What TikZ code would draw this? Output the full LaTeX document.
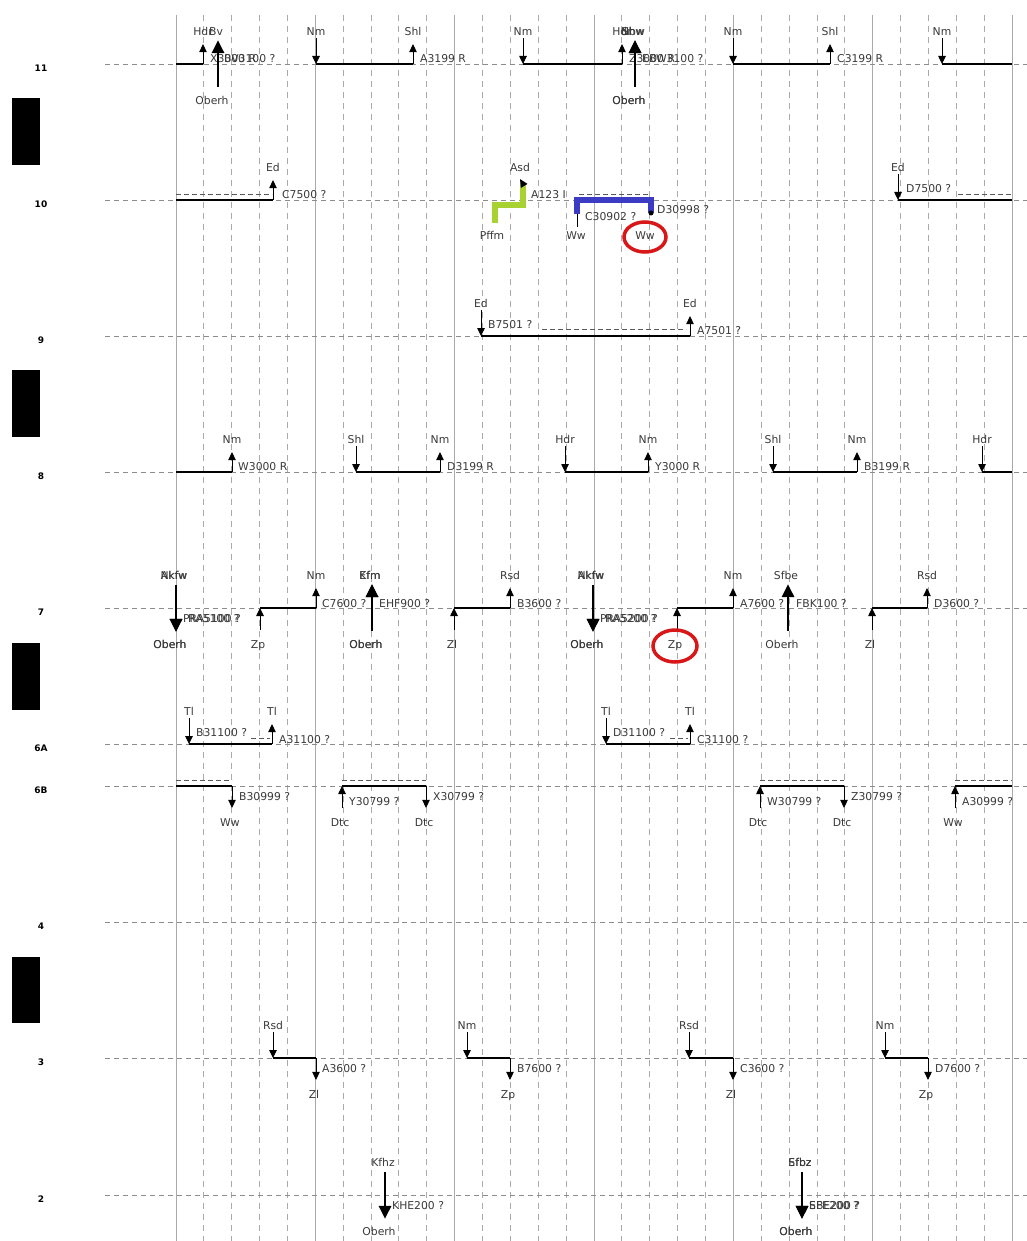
\documentclass[tikz,border=0pt]{standalone}
\usepackage{fontspec}
\setmainfont{DejaVu Sans}
\usetikzlibrary{arrows.meta,calc}
\definecolor{txt}{HTML}{3A3A3A}
\definecolor{gridc}{HTML}{AAAAAA}
\definecolor{limec}{HTML}{A8D232}
\definecolor{bluep}{HTML}{3B3BC4}
\definecolor{redc}{HTML}{D81818}
\tikzset{
 lab/.style={font=\fontsize{10.8}{12}\selectfont, text=txt, inner sep=0pt, text height=7.8pt, text depth=2pt},
 rowlab/.style={font=\fontsize{9}{10}\selectfont\bfseries, text=black, inner sep=0pt},
 sarr/.style={-{Triangle[length=8pt,width=7.5pt]}, line width=0.9pt},
 tarr/.style={-{Triangle[length=13pt,width=12pt]}, line width=2.8pt},
 seg/.style={line width=2.2pt},
 hint/.style={dash pattern=on 5pt off 3pt, line width=0.8pt, draw=black!65},
 vsolid/.style={draw=gridc, line width=1pt},
 vdash/.style={draw=gridc, line width=0.9pt, dash pattern=on 6pt off 5pt},
 rowline/.style={draw=black!45, line width=0.8pt, dash pattern=on 5pt off 4pt},
}
\newcommand\UpT[4]{\node[lab] (#1) at (#2,#3-31) {#4};\coordinate (#1p) at (#2,#3);\draw[sarr] (#1p) -- ($(#1.south)+(0,6)$);}
\newcommand\DnT[4]{\node[lab] (#1) at (#2,#3-31) {#4};\coordinate (#1p) at (#2,#3);\draw[sarr] (#1.south) -- (#1p);}
\newcommand\UpB[4]{\node[lab] (#1) at (#2-2,#3+38) {#4};\coordinate (#1p) at (#2,#3);\draw[sarr] ($(#1.north -| #1p)+(0,-11)$) -- (#1p);}
\newcommand\DnB[4]{\node[lab] (#1) at (#2-2,#3+38) {#4};\coordinate (#1p) at (#2,#3);\draw[sarr] (#1p) -- ($(#1.north -| #1p)+(0,-11)$);}
\newcommand\TkUp[5]{\node[lab] (#1t) at (#2-2,#3-31) {#4};\node[lab] (#1b) at (#2-6,#3+38) {#5};\coordinate (#1p) at (#2,#3);\draw[tarr] ($(#1b.north -| #1p)+(0,-10)$) -- ($(#1t.south -| #1p)+(0,2)$);}
\newcommand\TkDn[5]{\node[lab] (#1t) at (#2-2,#3-31) {#4};\node[lab] (#1b) at (#2-6,#3+38) {#5};\coordinate (#1p) at (#2,#3);\draw[tarr] ($(#1t.south -| #1p)+(0,3)$) -- ($(#1b.north -| #1p)+(0,-9)$);}
\newcommand\Side[4]{\node[lab,anchor=west] (#1) at (#2,#3) {#4};}
\begin{document}
\begin{tikzpicture}[x=1pt,y=-1pt]
\useasboundingbox (0,0) rectangle (1027,1241);
\fill[white] (0,0) rectangle (1027,1241);
% grid
\foreach \c in {0,...,30}{
  \pgfmathsetmacro{\gx}{176+27.867*\c}
  \pgfmathtruncatemacro{\gm}{mod(\c,5)}
  \ifnum\gm=0
    \draw[vsolid] (\gx,15) -- (\gx,1241);
  \else
    \draw[vdash] (\gx,15) -- (\gx,1241);
  \fi
}
\foreach \ry/\rl in {64/11,200/10,336/9,472/8,608/7,744/6A,786/6B,922/4,1058/3,1195/2}{
  \draw[rowline] (105,\ry) -- (1027,\ry);
  \node[rowlab] (row\rl) at (41,\ry+4) {\rl};
}
\fill[black] (12,98) rectangle (40,165);
\fill[black] (12,370) rectangle (40,437);
\fill[black] (12,643) rectangle (40,710);
\fill[black] (12,957) rectangle (40,1023);

% ---------- row 11
\coordinate (r11a) at (176,64);
\UpT{h11a}{203}{64}{Hdr}
\draw[seg] (r11a) -- (h11ap);
\Side{h11as}{210}{60}{X3000 R}
\TkUp{b11a}{218}{64}{Bv}{Oberh}
\Side{b11as}{224}{60}{BV3100 ?}
\DnT{n11a}{316}{64}{Nm}
\UpT{s11a}{413}{64}{Shl}
\draw[seg] (n11ap) -- (s11ap);
\Side{s11as}{420}{60}{A3199 R}
\DnT{n11b}{523}{64}{Nm}
\UpT{h11b}{622}{64}{Hdr}
\draw[seg] (n11bp) -- (h11bp);
\Side{h11bs}{629}{60}{Z3000 R}
\TkUp{b11b}{635}{64}{Nbw}{Oberh}
\TkUp{b11c}{635}{64}{Shw}{Oberh}
\Side{b11bs}{642}{60}{EBW3100 ?}
\DnT{n11c}{733}{64}{Nm}
\UpT{s11c}{830}{64}{Shl}
\draw[seg] (n11cp) -- (s11cp);
\Side{s11cs}{837}{60}{C3199 R}
\DnT{n11d}{942}{64}{Nm}
\coordinate (r11e) at (1012,64);
\draw[seg] (n11dp) -- (r11e);

% ---------- row 10
\coordinate (r10a) at (176,200);
\UpT{e10a}{273}{200}{Ed}
\draw[seg] (r10a) -- (e10ap);
\draw[hint] (176,194) -- (272,194);
\Side{e10as}{282}{196}{C7500 ?}
% green highlighted path
\node[lab] (asd) at (520,169) {Asd};
\node[lab] (pffm) at (492,237) {Pffm};
\coordinate (g1) at (495,223);
\coordinate (g2) at (495,205);
\coordinate (g3) at (523,205);
\coordinate (g4) at (523,184);
\draw[limec, line width=5.5pt, line join=miter] (g1) -- (g2) -- (g3) -- (g4);
\draw[sarr] (g4) -- ($(asd.south)+(0,5)$);
\Side{a123}{531}{196}{A123 I}
% blue highlighted path
\node[lab] (ww1) at (576,237) {Ww};
\node[lab] (ww2) at (645,237) {Ww};
\coordinate (bl1) at (577,214);
\coordinate (bl2) at (577,200);
\coordinate (bl3) at (651,200);
\coordinate (bl4) at (651,213);
\draw[line width=0.9pt] ($(ww1.north -| bl1)+(0,-5)$) -- (bl1);
\draw[bluep, line width=5.5pt, line join=miter] (bl1) -- (bl2) -- (bl3) -- (bl4);
\fill[black] (bl4) circle[radius=2.5pt];
\draw[hint] (579,194) -- (649,194);
\Side{c30902}{585}{218}{C30902 ?}
\Side{d30998}{657}{211}{D30998 ?}
\draw[redc, line width=3.5pt] (ww2) ellipse [x radius=21pt, y radius=15pt];
% right
\DnT{e10b}{898}{200}{Ed}
\coordinate (r10e) at (1012,200);
\draw[seg] (e10bp) -- (r10e);
\Side{e10bs}{906}{190}{D7500 ?}
\draw[hint] (958,194) -- (1012,194);

% ---------- row 9
\DnT{e9a}{481}{336}{Ed}
\UpT{e9b}{690}{336}{Ed}
\draw[seg] (e9ap) -- (e9bp);
\Side{e9as}{488}{326}{B7501 ?}
\Side{e9bs}{697}{332}{A7501 ?}
\draw[hint] (542,329) -- (686,329);

% ---------- row 8
\coordinate (r8a) at (176,472);
\UpT{n8a}{232}{472}{Nm}
\draw[seg] (r8a) -- (n8ap);
\Side{n8as}{238}{468}{W3000 R}
\DnT{s8b}{356}{472}{Shl}
\UpT{n8b}{440}{472}{Nm}
\draw[seg] (s8bp) -- (n8bp);
\Side{n8bs}{447}{468}{D3199 R}
\DnT{h8c}{565}{472}{Hdr}
\UpT{n8c}{648}{472}{Nm}
\draw[seg] (h8cp) -- (n8cp);
\Side{n8cs}{655}{468}{Y3000 R}
\DnT{s8d}{773}{472}{Shl}
\UpT{n8d}{857}{472}{Nm}
\draw[seg] (s8dp) -- (n8dp);
\Side{n8ds}{864}{468}{B3199 R}
\DnT{h8e}{982}{472}{Hdr}
\coordinate (r8e) at (1012,472);
\draw[seg] (h8ep) -- (r8e);

% ---------- row 7
\TkDn{k7a}{176}{608}{Nkfw}{Oberh}
\TkDn{k7b}{176}{608}{Akfw}{Oberh}
\Side{k7as}{183}{620}{PRA5100 ?}
\Side{k7bs}{188}{620}{RA5100 ?}
\UpB{z7a}{260}{608}{Zp}
\UpT{n7a}{316}{608}{Nm}
\draw[seg] (z7ap) -- (n7ap);
\Side{n7as}{322}{605}{C7600 ?}
\TkUp{k7c}{372}{608}{Kfm}{Oberh}
\TkUp{k7d}{372}{608}{Efm}{Oberh}
\Side{k7cs}{379}{605}{EHF900 ?}
\UpB{z7b}{454}{608}{Zl}
\UpT{r7b}{510}{608}{Rsd}
\draw[seg] (z7bp) -- (r7bp);
\Side{r7bs}{517}{605}{B3600 ?}
\TkDn{k7e}{593}{608}{Nkfw}{Oberh}
\TkDn{k7f}{593}{608}{Akfw}{Oberh}
\Side{k7es}{600}{620}{PRA5200 ?}
\Side{k7fs}{605}{620}{RA5200 ?}
\UpB{z7c}{677}{608}{Zp}
\UpT{n7c}{733}{608}{Nm}
\draw[seg] (z7cp) -- (n7cp);
\Side{n7cs}{740}{605}{A7600 ?}
\draw[redc, line width=3.5pt] (z7c) ellipse [x radius=22pt, y radius=16pt];
\TkUp{k7g}{788}{608}{Sfbe}{Oberh}
\Side{k7gs}{796}{605}{FBK100 ?}
\UpB{z7d}{872}{608}{Zl}
\UpT{r7d}{927}{608}{Rsd}
\draw[seg] (z7dp) -- (r7dp);
\Side{r7ds}{934}{605}{D3600 ?}

% ---------- row 6A
\DnT{t6a}{189}{744}{Tl}
\UpT{t6b}{272}{744}{Tl}
\draw[seg] (t6ap) -- (t6bp);
\Side{t6as}{196}{734}{B31100 ?}
\Side{t6bs}{279}{741}{A31100 ?}
\draw[hint] (251,738) -- (270,738);
\DnT{t6c}{606}{744}{Tl}
\UpT{t6d}{690}{744}{Tl}
\draw[seg] (t6cp) -- (t6dp);
\Side{t6cs}{613}{734}{D31100 ?}
\Side{t6ds}{697}{741}{C31100 ?}
\draw[hint] (670,738) -- (688,738);

% ---------- row 6B
\coordinate (r6a) at (176,786);
\DnB{w6a}{232}{786}{Ww}
\draw[seg] (r6a) -- (w6ap);
\draw[hint] (176,780) -- (232,780);
\Side{w6as}{239}{798}{B30999 ?}
\UpB{d6b}{342}{786}{Dtc}
\DnB{d6c}{426}{786}{Dtc}
\draw[seg] (d6bp) -- (d6cp);
\draw[hint] (342,780) -- (426,780);
\Side{d6bs}{349}{803}{Y30799 ?}
\Side{d6cs}{433}{798}{X30799 ?}
\UpB{d6d}{760}{786}{Dtc}
\DnB{d6e}{844}{786}{Dtc}
\draw[seg] (d6dp) -- (d6ep);
\draw[hint] (760,780) -- (844,780);
\Side{d6ds}{767}{803}{W30799 ?}
\Side{d6es}{851}{798}{Z30799 ?}
\UpB{w6f}{955}{786}{Ww}
\coordinate (r6e) at (1012,786);
\draw[seg] (w6fp) -- (r6e);
\draw[hint] (955,780) -- (1012,780);
\Side{w6fs}{962}{803}{A30999 ?}

% ---------- row 3
\DnT{r3a}{273}{1058}{Rsd}
\DnB{z3a}{316}{1058}{Zl}
\draw[seg] (r3ap) -- (z3ap);
\Side{z3as}{322}{1070}{A3600 ?}
\DnT{n3b}{467}{1058}{Nm}
\DnB{z3b}{510}{1058}{Zp}
\draw[seg] (n3bp) -- (z3bp);
\Side{z3bs}{517}{1070}{B7600 ?}
\DnT{r3c}{689}{1058}{Rsd}
\DnB{z3c}{733}{1058}{Zl}
\draw[seg] (r3cp) -- (z3cp);
\Side{z3cs}{740}{1070}{C3600 ?}
\DnT{n3d}{885}{1058}{Nm}
\DnB{z3d}{928}{1058}{Zp}
\draw[seg] (n3dp) -- (z3dp);
\Side{z3ds}{935}{1070}{D7600 ?}

% ---------- row 2
\TkDn{k2a}{385}{1195}{Kfhz}{Oberh}
\Side{k2as}{392}{1207}{KHE200 ?}
\TkDn{k2b}{802}{1195}{Sfbz}{Oberh}
\TkDn{k2c}{802}{1195}{Efbz}{Oberh}
\Side{k2bs}{809}{1207}{SBE200 ?}
\Side{k2cs}{809}{1207}{EFE200 ?}
\end{tikzpicture}
\end{document}
